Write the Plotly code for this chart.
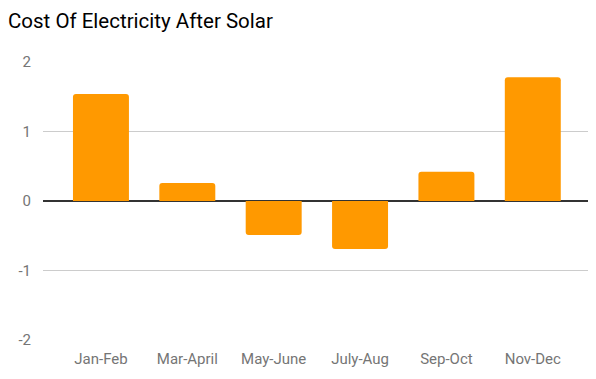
import plotly.graph_objects as go

categories = ["Jan-Feb", "Mar-April", "May-June", "July-Aug", "Sep-Oct", "Nov-Dec"]
values = [1.54, 0.26, -0.49, -0.69, 0.42, 1.78]
y_ticks = [-2, -1, 0, 1, 2]
y_tick_labels = ["-2", "-1", "0", "1", "2"]

fig = go.Figure(go.Bar(
    x=categories, y=values,
    marker=dict(color="#ff9900", line=dict(width=0), cornerradius=3),
    hoverinfo="x+y",
))

# page body has an 8px default margin, so the figure is sized to 588x371
fig.update_layout(
    width=588, height=371,
    margin=dict(l=35, r=5, t=54, b=39),
    paper_bgcolor="white", plot_bgcolor="white",
    title=dict(text="Cost Of Electricity After Solar", x=0.0, xanchor="left",
               y=0.965, yanchor="middle", pad=dict(l=0),
               font=dict(family="Roboto", size=20.5, color="#000000")),
    font=dict(family="Roboto", color="#757575", size=15),
    bargap=0.352,
    showlegend=False,
    xaxis=dict(range=[-0.671, 5.674], showgrid=False, zeroline=False, showline=False,
               ticks="outside", ticklen=5, tickcolor="rgba(0,0,0,0)",
               tickfont=dict(size=15, color="#757575")),
    yaxis=dict(range=[-2, 2], tickvals=y_ticks, ticktext=y_tick_labels,
               showgrid=True, gridcolor="#cccccc",
               gridwidth=1, zeroline=True, zerolinecolor="#333333", zerolinewidth=2,
               showline=False, ticks="outside", ticklen=8, tickcolor="rgba(0,0,0,0)",
               tickfont=dict(size=15, color="#757575")),
)

fig.write_html("out.html")
